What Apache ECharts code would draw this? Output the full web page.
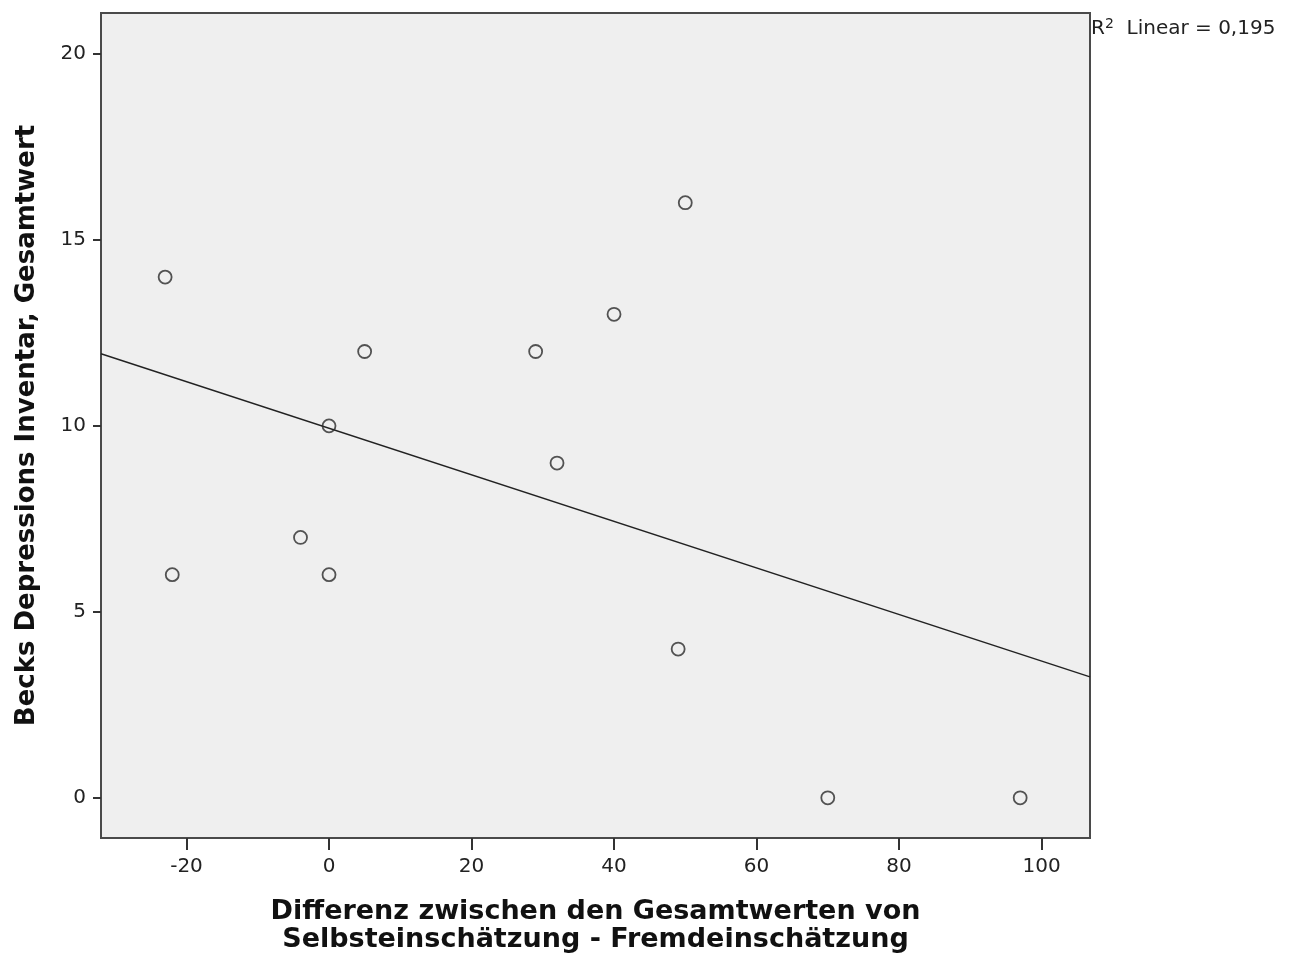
<!DOCTYPE html>
<html><head><meta charset="utf-8">
<script src="https://cdn.jsdelivr.net/npm/echarts@6/dist/echarts.min.js"></script>
<style>html,body{margin:0;padding:0;background:#fff;overflow:hidden}#c{width:1304px;height:953px}</style>
</head><body><div id="c"></div>
<script>
var xValues = [-23, -22, -4, 0, 0, 5, 29, 32, 40, 50, 49, 70, 97];
var yValues = [14, 6, 7, 10, 6, 12, 12, 9, 13, 16, 4, 0, 0];
var fitLine = [[-32, 11.94], [106.8, 3.25]];
var xTicks = [-20, 0, 20, 40, 60, 80, 100];
var yTicks = [0, 5, 10, 15, 20];
var xTitle = 'Differenz zwischen den Gesamtwerten von\nSelbsteinschätzung - Fremdeinschätzung';
var yTitle = 'Becks Depressions Inventar, Gesamtwert';
var r2Text = '0,195';

var pts = xValues.map(function (x, i) { return [x, yValues[i]]; });
var chart = echarts.init(document.getElementById('c'), null, { width: 1304, height: 953 });
chart.setOption({
  animation: false,
  backgroundColor: '#fff',
  grid: { left: 101, top: 13, width: 989, height: 825, outerBoundsMode: 'none', containLabel: false, show: true, backgroundColor: '#efefef', borderColor: '#4a4a4a', borderWidth: 2 },
  graphic: [{
    type: 'text', left: 1091, top: 17,
    style: {
      rich: {
        n: { fontSize: 20, fontFamily: 'DejaVu Sans', fill: '#222' },
        s: { fontSize: 14, fontFamily: 'DejaVu Sans', fill: '#222', verticalAlign: 'top', padding: [0, 0, 9, 0] }
      },
      text: '{n|R}{s|2}{n|  Linear = ' + r2Text + '}'
    }
  }],
  xAxis: {
    type: 'value', min: -32, max: 106.8,
    name: xTitle, nameLocation: 'middle', nameGap: 60,
    nameTextStyle: { fontSize: 27, fontWeight: 'bold', fontFamily: 'DejaVu Sans', color: '#111', lineHeight: 28 },
    axisLine: { show: true, onZero: false, lineStyle: { color: '#4a4a4a', width: 2 } },
    axisTick: { show: true, length: 12, customValues: xTicks, lineStyle: { color: '#333', width: 2 } },
    axisLabel: { customValues: xTicks, fontSize: 20, fontFamily: 'DejaVu Sans', color: '#222', margin: 19 },
    splitLine: { show: false }
  },
  yAxis: {
    type: 'value', min: -1.08, max: 21.1,
    name: yTitle, nameLocation: 'middle', nameGap: 61, nameRotate: 90,
    nameTextStyle: { fontSize: 26, fontWeight: 'bold', fontFamily: 'DejaVu Sans', color: '#111' },
    axisLine: { show: true, onZero: false, lineStyle: { color: '#4a4a4a', width: 2 } },
    axisTick: { show: true, length: 8, customValues: yTicks, lineStyle: { color: '#333', width: 2 } },
    axisLabel: { customValues: yTicks, fontSize: 20, fontFamily: 'DejaVu Sans', color: '#222', margin: 15 },
    splitLine: { show: false }
  },
  series: [
    { type: 'line', data: fitLine, showSymbol: false, symbol: 'none', lineStyle: { color: '#222', width: 1.4 }, silent: true, z: 2 },
    { type: 'scatter', data: pts, symbol: 'circle', symbolSize: 13, itemStyle: { color: 'rgba(0,0,0,0)', borderColor: '#2a2a2a', borderWidth: 1.8 }, z: 3 }
  ]
});
</script></body></html>
